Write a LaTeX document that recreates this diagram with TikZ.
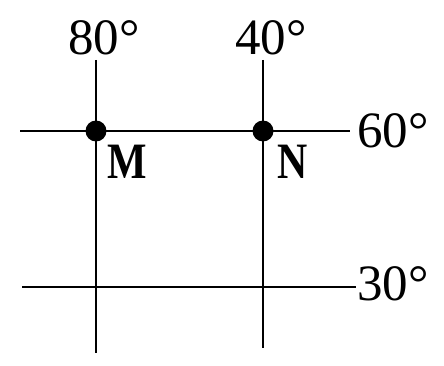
\documentclass[tikz,border=0pt]{standalone}
\usepackage{fontspec}
\setmainfont{Liberation Serif}
\newfontfamily\narrowbold[FakeStretch=0.82]{Liberation Serif Bold}
\usetikzlibrary{positioning}

\begin{document}
\begin{tikzpicture}[x=1pt, y=1pt,
        grid/.style={line width=2pt, black},
        pt/.style={circle, fill=black, inner sep=0pt, minimum size=21pt},
        deg/.style={font=\fontsize{51}{60}\selectfont, inner sep=0pt},
        lbl/.style={font=\fontsize{51}{60}\selectfont\narrowbold, inner sep=0pt}
    ]
        \useasboundingbox (0,0) rectangle (444,365);
        % parallels
        \coordinate (w60) at (20,234);
        \coordinate (e60) at (350,234);
        \coordinate (w30) at (22,78);
        \coordinate (e30) at (356,78);
        % meridians
        \coordinate (n80) at (96,305);
        \coordinate (s80) at (96,12);
        \coordinate (n40) at (263,305);
        \coordinate (s40) at (263,17);
        \draw[grid] (w60)--(e60); \draw[grid] (w30)--(e30);
        \draw[grid] (n80)--(s80); \draw[grid] (n40)--(s40);
        \node[pt] (M) at (96,234) {};
        \node[pt] (N) at (263,234) {};
        \node[lbl, anchor=north west] (labM) at (107,220) {M};
        \node[lbl, anchor=north west] (labN) at (277,220) {N};
        \node[deg, anchor=base] (lon80) at (104,310) {80°};
        \node[deg, anchor=base] (lon40) at (271,310) {40°};
        \node[deg, anchor=base west] (lat60) at (357,218) {60°};
        \node[deg, anchor=base west] (lat30) at (357,65) {30°};
    \end{tikzpicture}
\end{document}
